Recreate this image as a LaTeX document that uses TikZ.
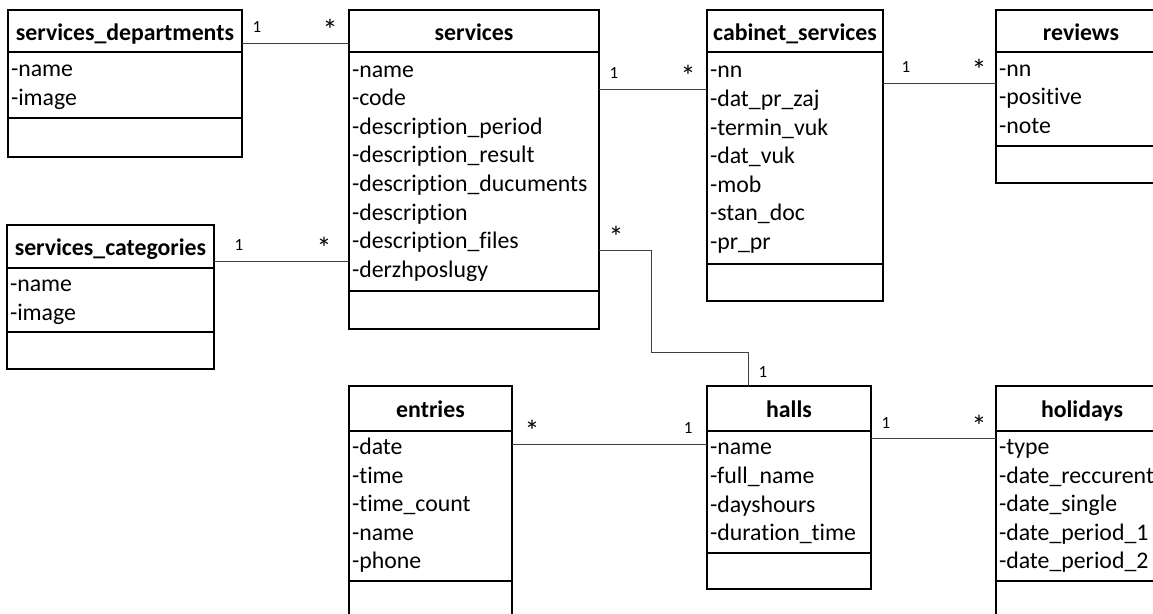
\documentclass[tikz,border=0pt]{standalone}
\usepackage{fontspec}
\setmainfont{Carlito}[Ligatures=NoCommon]
\usepackage{tikz}
\tikzset{every picture/.style={x=1pt,y=-1pt},
  title/.style 2 args={draw, line width=2pt, outer sep=0pt, anchor=north west, minimum width=#1, minimum height=#2, inner sep=0pt, text height=20pt, text depth=2pt, font=\fontsize{23.8}{28.6}\selectfont\bfseries},
  attrs/.style 2 args={draw, line width=2pt, outer sep=0pt, anchor=north west, minimum width=#1, minimum height=#2, text width=#1-6pt, inner xsep=3pt, inner ysep=2pt, align=left, font=\fontsize{23.8}{28.6}\selectfont},
  ops/.style 2 args={draw, line width=2pt, outer sep=0pt, anchor=north west, minimum width=#1, minimum height=#2},
  link/.style={draw=black!75, line width=1pt},
  mult/.style={font=\fontsize{17}{20}\selectfont, inner sep=0pt},
  many/.style={font=\fontsize{30}{30}\selectfont, inner sep=0pt, text depth=0pt}}

\begin{document}
\begin{tikzpicture}
    \useasboundingbox (0,0) rectangle (1153,613);
    \clip (0,0) rectangle (1153,613);

    \node[title={234}{42}](dep) at (8,10){services\_departments};
    \node[attrs={234}{66}](dep-a) at (8,52){\strut-name\\-image\strut};
    \node[ops={234}{39}](dep-o) at (8,118){};

    \node[title={250}{42}](svc) at (349,10){services};
    \node[attrs={250}{239}](svc-a) at (349,52){\strut-name\\-code\\-description\_period\\-description\_result\\-description\_ducuments\\-description\\-description\_files\\-derzhposlugy\strut};
    \node[ops={250}{38}](svc-o) at (349,291){};

    \node[title={176}{42}](cab) at (707,10){cabinet\_services};
    \node[attrs={176}{212}](cab-a) at (707,52){\strut-nn\\-dat\_pr\_zaj\\-termin\_vuk\\-dat\_vuk\\-mob\\-stan\_doc\\-pr\_pr\strut};
    \node[ops={176}{37}](cab-o) at (707,264){};

    \node[title={170}{42}](rev) at (996,10){reviews};
    \node[attrs={170}{94}](rev-a) at (996,52){\strut-nn\\-positive\\-note\strut};
    \node[ops={170}{37}](rev-o) at (996,146){};

    \node[title={207}{43}](cat) at (7,225){services\_categories};
    \node[attrs={207}{64}](cat-a) at (7,268){\strut-name\\-image\strut};
    \node[ops={207}{37}](cat-o) at (7,332){};

    \node[title={163}{45}](ent) at (349,386){entries};
    \node[attrs={163}{150}](ent-a) at (349,431){\strut-date\\-time\\-time\_count\\-name\\-phone\strut};
    \node[ops={163}{40}](ent-o) at (349,581){};

    \node[title={164}{45}](hall) at (707,386){halls};
    \node[attrs={164}{122}](hall-a) at (707,431){\strut-name\\-full\_name\\-dayshours\\-duration\_time\strut};
    \node[ops={164}{36}](hall-o) at (707,553){};

    \node[title={172}{45}](hol) at (996,386){holidays};
    \node[attrs={172}{150}](hol-a) at (996,431){\strut-type\\-date\_reccurent\\-date\_single\\-date\_period\_1\\-date\_period\_2\strut};
    \node[ops={172}{40}](hol-o) at (996,581){};

    \coordinate (bend) at (651,352);

    \draw[link](dep.east |- 0,43)--(svc.west |- 0,43)
      node[mult, at start, anchor=south west, xshift=10pt, yshift=10pt]{1}
      node[many, at end, anchor=south east, xshift=-11pt, yshift=2pt]{*};
    \draw[link](svc-a.east |- 0,89)--(cab-a.west |- 0,89)
      node[mult, at start, anchor=south west, xshift=10pt, yshift=10pt]{1}
      node[many, at end, anchor=south east, xshift=-11pt, yshift=2pt]{*};
    \draw[link](cab-a.east |- 0,83)--(rev-a.west |- 0,83)
      node[mult, at start, anchor=south west, xshift=18pt, yshift=10pt]{1}
      node[many, at end, anchor=south east, xshift=-9pt, yshift=2pt]{*};
    \draw[link](cat.east |- 0,261)--(svc-a.west |- 0,261)
      node[mult, at start, anchor=south west, xshift=20pt, yshift=10pt]{1}
      node[many, at end, anchor=south east, xshift=-17pt, yshift=2pt]{*};
    \draw[link](svc-a.east |- 0,250)
      node[many, anchor=south west, xshift=9pt, yshift=2pt]{*}
      -|(bend)-|([xshift=41pt]hall.north west)
      node[mult, at end, anchor=south west, xshift=10pt, yshift=8pt]{1};
    \draw[link](ent-a.east |- 0,444)--(hall-a.west |- 0,444)
      node[many, at start, anchor=south west, xshift=12pt, yshift=2pt]{*}
      node[mult, at end, anchor=south east, xshift=-14pt, yshift=10pt]{1};
    \draw[link](hall-a.east |- 0,438)--(hol-a.west |- 0,438)
      node[mult, at start, anchor=south west, xshift=10pt, yshift=9pt]{1}
      node[many, at end, anchor=south east, xshift=-9pt, yshift=1pt]{*};
  \end{tikzpicture}
\end{document}
